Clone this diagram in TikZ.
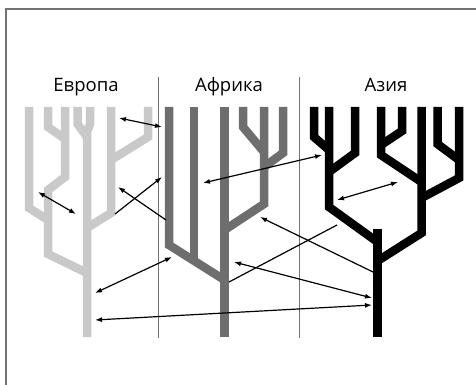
\documentclass[tikz,border=0pt]{standalone}
\usepackage{fontspec}
\setmainfont{Open Sans}
\usetikzlibrary{arrows.meta}
\definecolor{eucol}{gray}{0.79}
\definecolor{afcol}{gray}{0.43}
\definecolor{ascol}{gray}{0}
\definecolor{rahmen}{gray}{0.45}
\tikzset{
  ast/.style={line width=8.5pt,line join=miter,line cap=butt},
  eu/.style={ast,draw=eucol},
  af/.style={ast,draw=afcol},
  as/.style={ast,draw=ascol},
  trenner/.style={draw=rahmen,line width=0.7pt},
  pfeil/.style={line width=1.2pt,-{Latex[length=7pt,width=5pt]}},
  dpfeil/.style={line width=1.2pt,{Latex[length=7pt,width=5pt]}-{Latex[length=7pt,width=5pt]}},
  linie/.style={line width=1.2pt},
  titel/.style={font=\fontsize{18.5}{22}\selectfont,anchor=base}
}
\begin{document}
\begin{tikzpicture}[x=1pt,y=-1pt]
	\useasboundingbox (0,0) rectangle (476,385);
	\clip (0,0) rectangle (476,385);
	\draw[draw=rahmen,line width=1.3pt] (6,9) rectangle (490,400);
	% Ueberschriften
	\node[titel] (europa) at (86,92) {Европа};
	\node[titel] (afrika) at (229,92) {Африка};
	\node[titel] (asien) at (386,92) {Азия};
	\draw[trenner] (158.5,77) to (158.5,338);
	\draw[trenner] (299,77) to (299,338);
	% Europa
	\draw[eu] (90,107) to (90,124) to (87,132) to (87,337);
	\draw[eu] (77.5,107) to (77.5,124) to (87,137);
	\draw[eu] (111,107) to (111,213) to (87,228);
	\draw[eu] (148,107) to (148,137) to (111,160);
	\draw[eu] (29,107) to (29,208) to (48,220);
	\draw[eu] (65,107) to (65,177) to (48,190) to (48,254) to (87,273);
	\draw[eu] (48,107) to (48,127) to (65,139);
	% Afrika
	\draw[af] (224.5,107) to (224.5,337);
	\draw[af] (169,107) to (169,245) to (224.5,280);
	\draw[af] (194,107) to (194,261);
	\draw[af] (264,107) to (264,204) to (224.5,230);
	\draw[af] (243,107) to (243,127) to (264,152);
	\draw[af] (283,107) to (283,153) to (264,167);
	% Asien
	\draw[as] (377.5,229) to (377.5,337);
	\draw[as] (329,107) to (329,207) to (377.5,242);
	\draw[as] (314,107) to (314,137) to (329,150);
	\draw[as] (355,107) to (355,153) to (329,172);
	\draw[as] (421.5,107) to (421.5,233) to (377.5,261);
	\draw[as] (381,107) to (381,155) to (421.5,182);
	\draw[as] (402,107) to (402,131) to (381,145);
	\draw[as] (459,107) to (459,178) to (421.5,198);
	\draw[as] (437.5,107) to (437.5,144) to (459,160);
	% Pfeile
	\coordinate (e1) at (119,118);
	\coordinate (a1) at (162,127);
	\coordinate (e2) at (38,192);
	\coordinate (e3) at (76,214);
	\coordinate (e4) at (115,214);
	\coordinate (a2) at (162,177);
	\coordinate (a3) at (166,220);
	\coordinate (e5) at (118,187);
	\coordinate (a4) at (172,257);
	\coordinate (e6) at (95,293);
	\coordinate (e7) at (95,320);
	\coordinate (s1) at (372,305);
	\coordinate (a5) at (234,262);
	\coordinate (s2) at (372,298);
	\coordinate (a6) at (229,282);
	\coordinate (s3) at (337,225);
	\coordinate (s4) at (373,272);
	\coordinate (a7) at (260,217);
	\coordinate (a8) at (203,183);
	\coordinate (s5) at (322,155);
	\coordinate (s6) at (337,200);
	\coordinate (s7) at (398,182);
	\draw[dpfeil] (e1) to (a1);
	\draw[dpfeil] (e2) to (e3);
	\draw[pfeil] (e4) to (a2);
	\draw[pfeil] (a3) to (e5);
	\draw[dpfeil] (a4) to (e6);
	\draw[dpfeil] (e7) to (s1);
	\draw[dpfeil] (a5) to (s2);
	\draw[linie] (a6) to (s3);
	\draw[pfeil] (s4) to (a7);
	\draw[dpfeil] (a8) to (s5);
	\draw[dpfeil] (s6) to (s7);
\end{tikzpicture}
\end{document}
